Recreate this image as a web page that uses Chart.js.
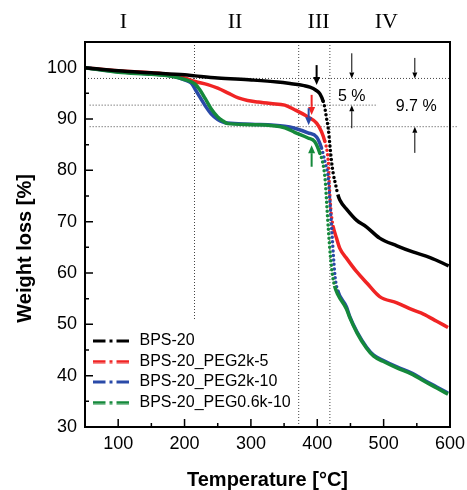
<!DOCTYPE html>
<html>
<head>
<meta charset="utf-8">
<script src="https://cdn.jsdelivr.net/npm/chart.js@4.4.1/dist/chart.umd.min.js"></script>
<style>
  html, body { margin: 0; padding: 0; background: #fff; }
  #wrap { width: 467px; height: 490px; }
</style>
</head>
<body>
<div id="wrap"><canvas id="tga" width="467" height="490"></canvas></div>
<script>
// TGA curves
const seriesNames = ['BPS-20', 'BPS-20_PEG2k-5', 'BPS-20_PEG2k-10', 'BPS-20_PEG0.6k-10'];
const seriesColors = ['#000000', '#f02424', '#2a4aa8', '#15893b'];

const tempBlack   = [50, 100, 150, 200, 216, 250, 301, 340, 359, 380, 389, 398, 404, 409, 411.5, 414, 416.5, 419, 421.5, 424, 428, 431, 434, 445, 459, 474, 494, 520, 544, 570, 598];
const weightBlack = [100, 99.4, 99.0, 98.6, 98.4, 98.0, 97.6, 97.2, 96.9, 96.5, 96.2, 95.6, 94.9, 93.4, 92.1, 90.1, 88.2, 84.9, 81.7, 79.4, 77.0, 75.3, 74.2, 72.3, 70.3, 69.0, 66.8, 65.3, 64.1, 63.0, 61.4];

const tempRed   = [50, 100, 150, 175, 200, 216, 235, 250, 265, 281, 295, 311, 330, 351, 366, 386, 399, 406.5, 411.5, 415, 416.5, 418, 420, 422, 424, 429, 434, 445, 459, 475, 494, 520, 544, 560, 580, 597];
const weightRed = [100, 99.4, 99.0, 98.7, 98.0, 97.3, 96.7, 96.0, 95.1, 94.1, 93.6, 93.3, 93.0, 92.7, 91.8, 90.4, 89.2, 87.5, 85.6, 83.6, 81.7, 77.5, 73.0, 70.5, 69.0, 66.8, 64.8, 62.7, 60.3, 58.0, 55.4, 54.2, 52.8, 52.0, 50.6, 49.4];

const tempBlue   = [50, 100, 150, 180, 200, 210, 216, 223, 231, 240, 250, 258, 265, 301, 351, 366, 386, 399, 406.5, 411.5, 416.5, 419, 422, 425, 427, 431, 444, 449, 460, 474, 485, 499, 520, 544, 560, 580, 597];
const weightBlue = [100, 99.2, 98.8, 98.4, 97.6, 97.0, 95.8, 94.3, 92.6, 91.0, 89.9, 89.4, 89.2, 89.0, 88.6, 88.2, 87.3, 86.5, 84.3, 81.7, 78.5, 74.0, 68.0, 62.0, 59.0, 56.5, 53.4, 51.5, 48.5, 45.6, 44.0, 43.0, 41.7, 40.4, 39.2, 37.8, 36.6];

const tempGreen   = [50, 100, 150, 180, 200, 216, 223, 231, 240, 250, 258, 265, 301, 351, 366, 386, 396, 404, 409, 412, 414, 417, 420, 423, 426, 431, 444, 449, 460, 474, 485, 499, 520, 544, 560, 580, 597];
const weightGreen = [100, 99.1, 98.7, 98.3, 97.7, 96.8, 95.7, 94.0, 92.0, 90.4, 89.6, 89.1, 88.9, 88.3, 87.4, 86.3, 85.6, 83.3, 81.0, 78.0, 74.0, 68.0, 63.0, 59.5, 57.5, 55.8, 53.0, 51.3, 48.3, 45.4, 43.8, 42.8, 41.5, 40.2, 39.0, 37.6, 36.4];

// axis ticks
const xMajor = [100, 200, 300, 400, 500, 600];
const xMinor = [150, 250, 350, 450, 550];
const yMajor = [30, 40, 50, 60, 70, 80, 90, 100];
const yMinor = [35, 45, 55, 65, 75, 85, 95];

// dotted guide lines: [x0, y0, x1, y1]
const guideLines = [
  [215, 105, 215, 51],
  [372, 105, 372, 30],
  [419, 105, 419, 30],
  [50, 97.9, 600, 97.9],
  [57, 92.7, 491, 92.7],
  [57, 88.5, 611, 88.5]
];

// arrows: x, tail y, head y
const arrowX     = [399, 391.5, 387, 391.5, 452, 452, 547, 547];
const arrowFrom  = [100.5, 94.7, 92.1, 80.7, 102.8, 88.2, 101.9, 83.4];
const arrowTo    = [96.6, 90.8, 88.8, 84.9, 97.9, 92.7, 97.9, 88.5];
const arrowColor = ['#000', '#f02424', '#2a4aa8', '#15893b', '#000', '#000', '#000', '#000'];
const arrowBold  = [true, true, true, true, false, false, false, false];

const noteText = ['5 %', '9.7 %'];
const noteX = [452, 549];
const noteY = [94.3, 92.4];

const regionText = ['I', 'II', 'III', 'IV'];
const regionX = [108, 276, 402, 504];

const SANS = "'Liberation Sans', Arial, sans-serif";
const SERIF = "'Liberation Serif', 'Times New Roman', serif";

function pts(xs, ys) { return xs.map((x, i) => ({ x: x, y: ys[i] })); }

function steep(ctx) {
  const dx = Math.abs(ctx.p1.x - ctx.p0.x), dy = Math.abs(ctx.p1.y - ctx.p0.y);
  return dy > 3.5 * dx;
}

function dashSample(color) {
  const c = document.createElement('canvas');
  c.width = 36; c.height = 4;
  const g = c.getContext('2d');
  g.strokeStyle = color; g.lineWidth = 3;
  g.setLineDash([13, 4, 3, 4]);
  g.beginPath(); g.moveTo(0, 2); g.lineTo(36, 2); g.stroke();
  return c;
}
const samples = seriesColors.map(dashSample);

const allTemps = [tempBlack, tempRed, tempBlue, tempGreen];
const allWeights = [weightBlack, weightRed, weightBlue, weightGreen];
const drawOrder = [0, 3, 2, 1];

const datasets = seriesNames.map((name, i) => ({
  label: name,
  data: pts(allTemps[i], allWeights[i]),
  borderColor: seriesColors[i],
  backgroundColor: seriesColors[i],
  borderWidth: 3.5,
  pointRadius: 0,
  cubicInterpolationMode: 'monotone',
  order: drawOrder[i],
  segment: {
    borderDash: ctx => steep(ctx) ? [0, 4.5] : undefined,
    borderCapStyle: ctx => steep(ctx) ? 'round' : undefined
  }
}));

guideLines.forEach(l => datasets.push({
  label: '_guide',
  data: [{ x: l[0], y: l[1] }, { x: l[2], y: l[3] }],
  borderColor: '#444',
  borderWidth: 1,
  borderDash: [1, 2],
  pointRadius: 0,
  order: 10,
  clip: false
}));

const extras = {
  id: 'extras',
  beforeDraw(chart) {
    // keep the legend in the lower left corner of the plot
    const lg = chart.legend, a = chart.chartArea;
    if (lg) { lg.top = a.top; lg.bottom = a.bottom - 12; }
  },
  afterDatasetsDraw(chart) {
    const { ctx, chartArea: a, scales: { x, y } } = chart;
    ctx.save();
    // arrows
    arrowX.forEach((v, i) => {
      const px = x.getPixelForValue(v);
      const y0 = y.getPixelForValue(arrowFrom[i]);
      const y1 = y.getPixelForValue(arrowTo[i]);
      const dir = y1 > y0 ? 1 : -1;
      const hl = arrowBold[i] ? 8 : 6, hw = arrowBold[i] ? 3.5 : 2.5;
      ctx.strokeStyle = arrowColor[i];
      ctx.fillStyle = arrowColor[i];
      ctx.lineWidth = arrowBold[i] ? 2 : 1;
      ctx.beginPath(); ctx.moveTo(px, y0); ctx.lineTo(px, y1 - dir * hl); ctx.stroke();
      ctx.beginPath();
      ctx.moveTo(px, y1); ctx.lineTo(px - hw, y1 - dir * hl); ctx.lineTo(px + hw, y1 - dir * hl);
      ctx.closePath(); ctx.fill();
    });
    // notes
    ctx.fillStyle = '#000';
    ctx.font = '16px ' + SANS;
    ctx.textAlign = 'center';
    ctx.textBaseline = 'middle';
    noteText.forEach((t, i) => ctx.fillText(t, x.getPixelForValue(noteX[i]), y.getPixelForValue(noteY[i])));
    // region numerals above the frame
    ctx.font = '22px ' + SERIF;
    regionText.forEach((t, i) => ctx.fillText(t, x.getPixelForValue(regionX[i]), a.top - 20));
    // frame and inward ticks
    ctx.strokeStyle = '#000';
    ctx.lineWidth = 2;
    ctx.strokeRect(a.left, a.top, a.right - a.left, a.bottom - a.top);
    ctx.lineWidth = 1.5;
    ctx.beginPath();
    xMajor.forEach(v => { const p = x.getPixelForValue(v); ctx.moveTo(p, a.bottom); ctx.lineTo(p, a.bottom - 8); });
    xMinor.forEach(v => { const p = x.getPixelForValue(v); ctx.moveTo(p, a.bottom); ctx.lineTo(p, a.bottom - 4); });
    yMajor.forEach(v => { const p = y.getPixelForValue(v); ctx.moveTo(a.left, p); ctx.lineTo(a.left + 8, p); });
    yMinor.forEach(v => { const p = y.getPixelForValue(v); ctx.moveTo(a.left, p); ctx.lineTo(a.left + 4, p); });
    ctx.stroke();
    ctx.restore();
  }
};

new Chart(document.getElementById('tga'), {
  type: 'line',
  data: { datasets: datasets },
  plugins: [extras],
  options: {
    responsive: false,
    animation: false,
    layout: { padding: { top: 42, right: 17, left: 0, bottom: 0 } },
    scales: {
      x: {
        type: 'linear',
        min: 50, max: 600,
        afterFit: s => { s.height = 63; },
        afterBuildTicks: s => { s.ticks = xMajor.map(v => ({ value: v })); },
        grid: { display: false, drawTicks: false },
        border: { display: false },
        ticks: { color: '#000', padding: 0, font: { family: SANS, size: 18, lineHeight: 1.9 } },
        title: { display: true, text: 'Temperature [°C]', color: '#000', padding: { top: 0, bottom: -2 }, font: { family: SANS, size: 20, weight: 'bold' } }
      },
      y: {
        min: 30, max: 105,
        afterFit: s => { s.width = 85; },
        afterBuildTicks: s => { s.ticks = yMajor.map(v => ({ value: v })); },
        grid: { display: false, drawTicks: false },
        border: { display: false },
        ticks: { color: '#000', padding: 8, font: { family: SANS, size: 18 } },
        title: { display: true, text: 'Weight loss [%]     ', color: '#000', padding: { top: 13, bottom: 0 }, font: { family: SANS, size: 20, weight: 'bold' } }
      }
    },
    plugins: {
      tooltip: { enabled: false },
      legend: {
        position: 'chartArea',
        align: 'end',
        labels: {
          color: '#000',
          font: { family: SANS, size: 16 },
          usePointStyle: true,
          pointStyleWidth: 42,
          padding: 4.5,
          generateLabels(chart) {
            const items = Chart.defaults.plugins.legend.labels.generateLabels(chart);
            return items
              .filter(it => it.datasetIndex < seriesNames.length)
              .sort((p, q) => p.datasetIndex - q.datasetIndex)
              .map(it => Object.assign(it, { pointStyle: samples[it.datasetIndex] }));
          }
        }
      }
    }
  }
});
</script>
</body>
</html>
